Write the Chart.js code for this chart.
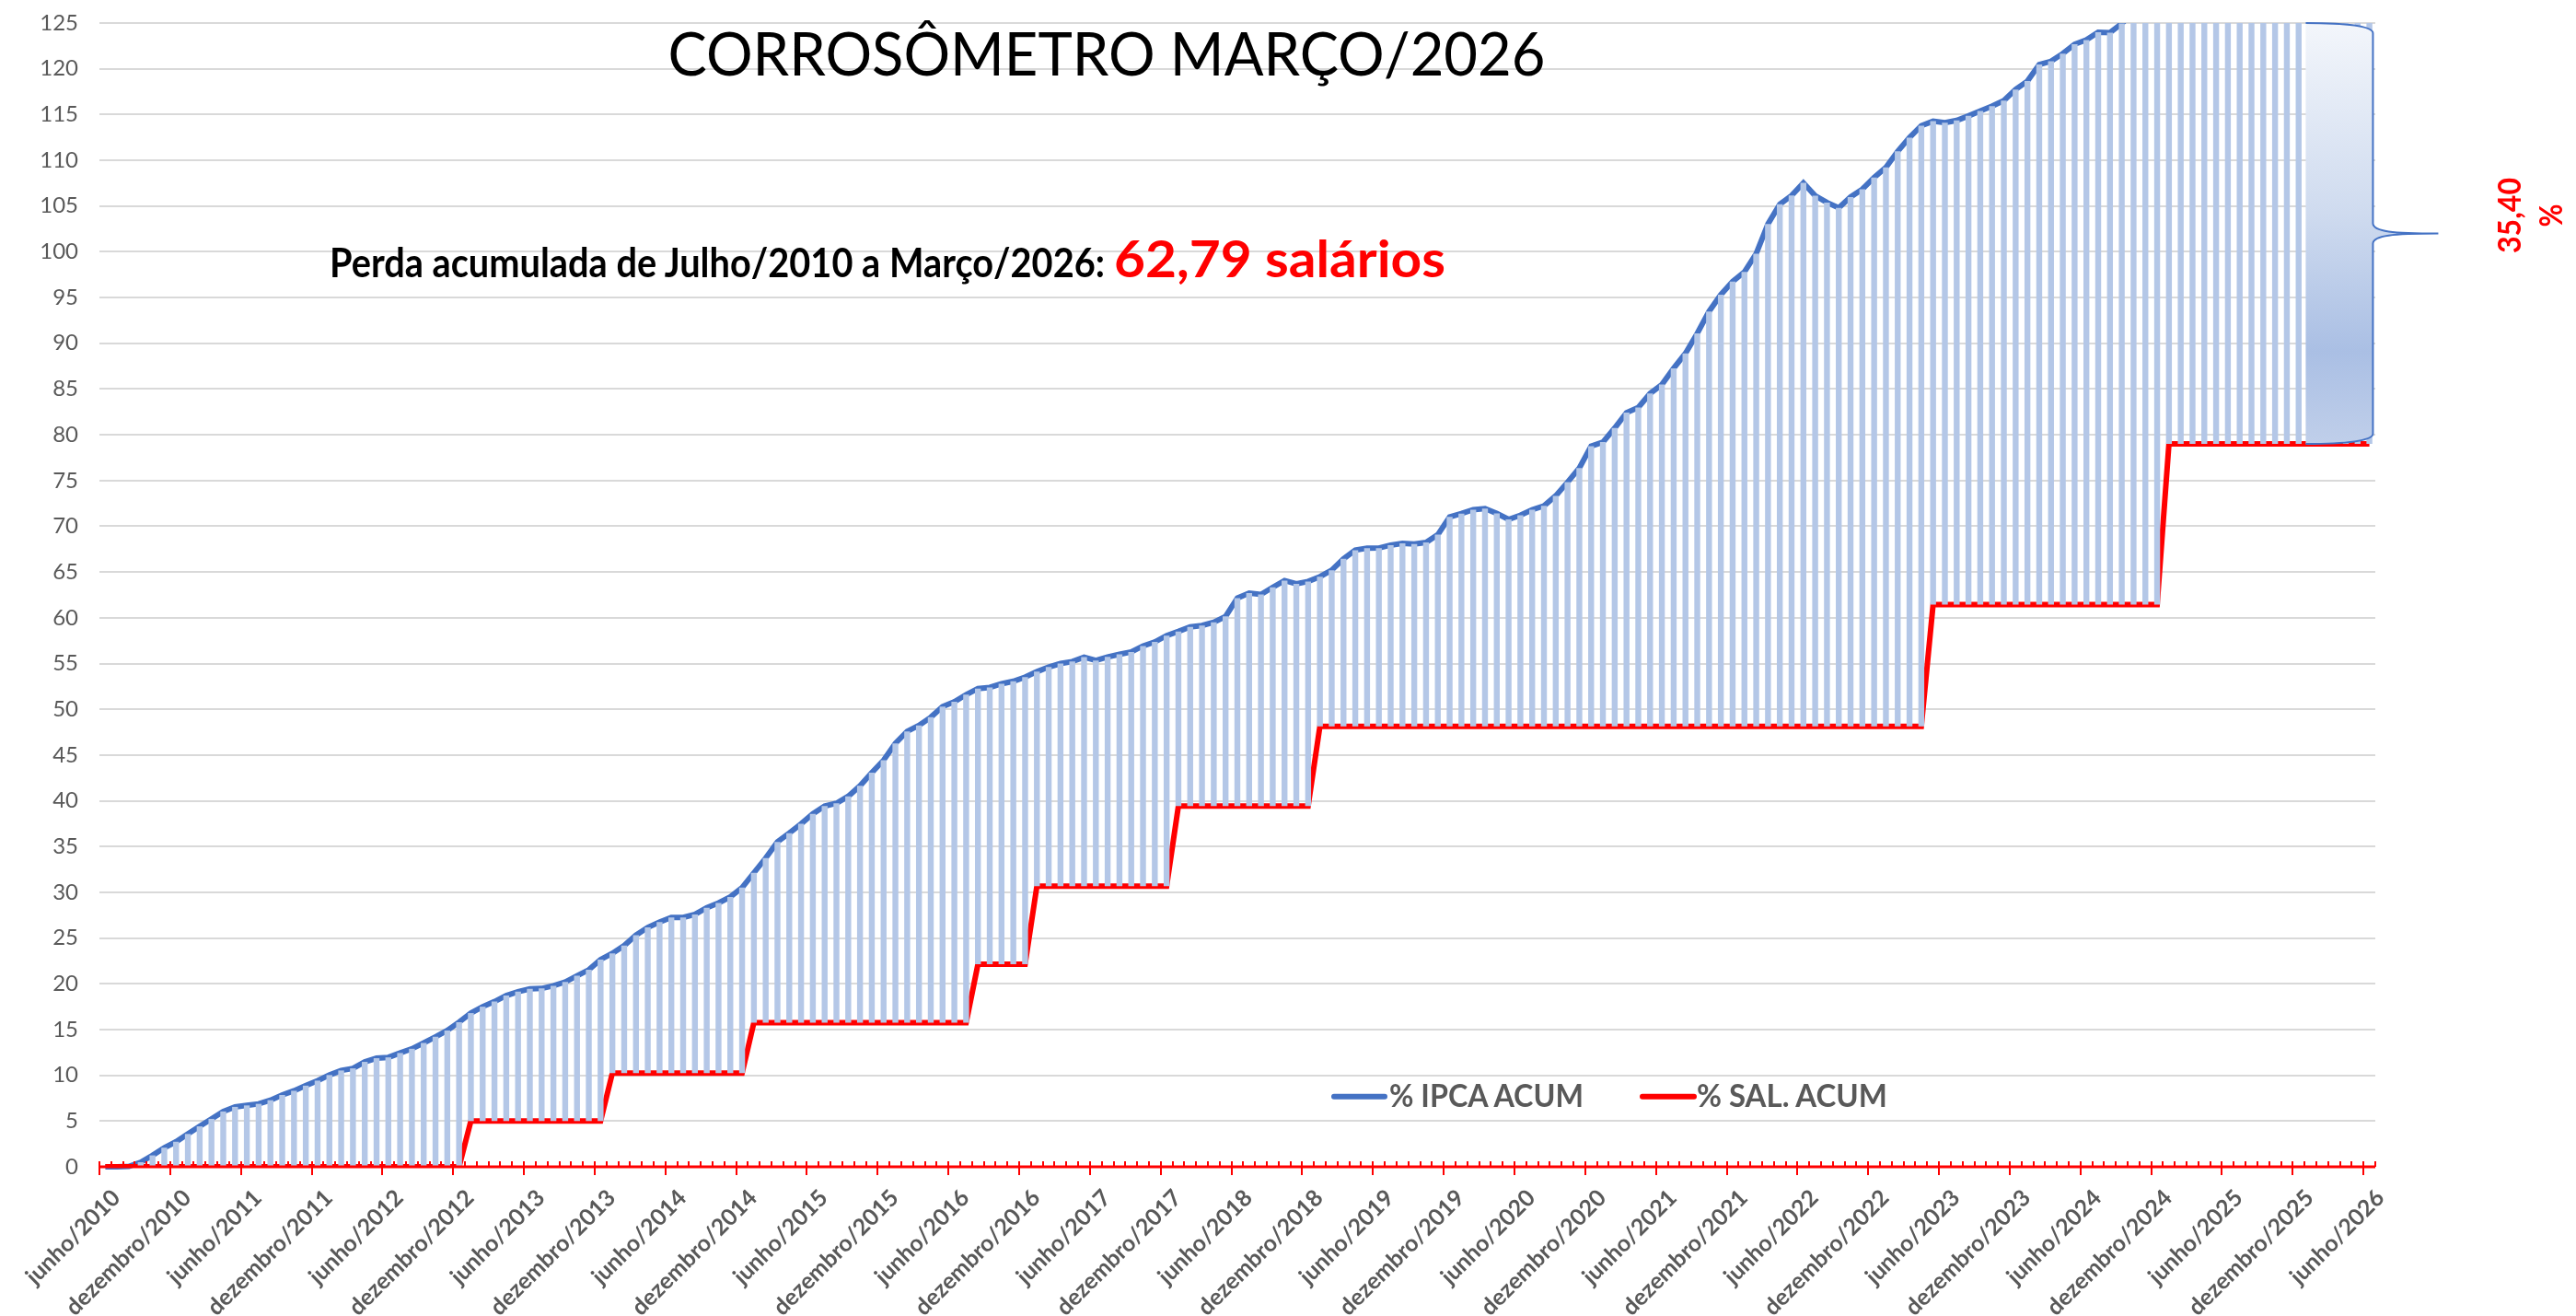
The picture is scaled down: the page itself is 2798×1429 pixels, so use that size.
<!DOCTYPE html>
<html>
<head>
<meta charset="utf-8">
<script src="https://cdn.jsdelivr.net/npm/chart.js@4.4.1/dist/chart.umd.min.js"></script>
<style>
html,body{margin:0;padding:0;background:#ffffff;}
#wrap{position:relative;width:2798px;height:1429px;overflow:hidden;}
#c{position:absolute;left:0;top:0;}
#ov{position:absolute;left:0;top:0;pointer-events:none;}
</style>
</head>
<body>
<div id="wrap">
<canvas id="c" width="2798" height="1429"></canvas>
<svg id="ov" width="2798" height="1429" xmlns="http://www.w3.org/2000/svg"></svg>
</div>
<script>
// ---------------- DATA ----------------
const monthNames = ['janeiro','fevereiro','março','abril','maio','junho','julho','agosto','setembro','outubro','novembro','dezembro'];
// categories: junho/2010 ... junho/2026 (monthly)
const categories = [];
for (let y = 2010, m = 5; y < 2026 || (y === 2026 && m <= 5);) {
  categories.push(monthNames[m] + '/' + y);
  m++; if (m === 12) { m = 0; y++; }
}

// % IPCA acumulado (from junho/2010)
const ipcaAcum = [
  0,
  0.01, 0.05, 0.50, 1.25, 2.09, 2.74,
  3.59, 4.42, 5.24, 6.05, 6.55, 6.71, 6.88, 7.28, 7.85, 8.31, 8.87, 9.42,
  10.03, 10.53, 10.76, 11.47, 11.87, 11.96, 12.44, 12.90, 13.54, 14.21, 14.90, 15.81,
  16.80, 17.50, 18.06, 18.71, 19.14, 19.45, 19.49, 19.78, 20.20, 20.88, 21.53, 22.65,
  23.33, 24.18, 25.32, 26.16, 26.74, 27.25, 27.26, 27.58, 28.31, 28.84, 29.50, 30.51,
  32.13, 33.74, 35.51, 36.47, 37.48, 38.57, 39.42, 39.73, 40.49, 41.64, 43.07, 44.44,
  46.28, 47.59, 48.23, 49.13, 50.29, 50.82, 51.60, 52.27, 52.39, 52.79, 53.06, 53.52,
  54.11, 54.62, 55.00, 55.22, 55.70, 55.34, 55.72, 56.01, 56.26, 56.92, 57.36, 58.05,
  58.51, 59.01, 59.16, 59.51, 60.15, 62.16, 62.70, 62.55, 63.33, 64.07, 63.72, 63.97,
  64.49, 65.20, 66.44, 67.39, 67.61, 67.62, 67.94, 68.13, 68.06, 68.23, 69.08, 71.03,
  71.39, 71.82, 71.94, 71.40, 70.75, 71.20, 71.81, 72.23, 73.33, 74.82, 76.37, 78.76,
  79.20, 80.74, 82.42, 82.99, 84.51, 85.49, 87.27, 88.90, 91.09, 93.48, 95.31, 96.74,
  97.80, 99.80, 103.04, 105.19, 106.15, 107.53, 106.12, 105.38, 104.79, 105.99, 106.84, 108.12,
  109.22, 110.98, 112.48, 113.78, 114.27, 114.10, 114.35, 114.85, 115.40, 115.92, 116.53, 117.74,
  118.65, 120.47, 120.82, 121.66, 122.68, 123.15, 123.99, 123.95, 124.94, 126.20, 127.08, 128.26,
  128.62, 131.62, 132.92, 133.92, 134.52, 135.09, 135.70, 135.44, 136.57, 136.78, 137.21, 137.99,
  138.80, 140.40, 141.60, 141.60, 141.60, 141.60
];

// % salário acumulado (from junho/2010)
const salAcum = [
  0,
  0, 0, 0, 0, 0, 0,
  0, 0, 0, 0, 0, 0, 0, 0, 0, 0, 0, 0,
  0, 0, 0, 0, 0, 0, 0, 0, 0, 0, 0, 0,
  5.00, 5.00, 5.00, 5.00, 5.00, 5.00, 5.00, 5.00, 5.00, 5.00, 5.00, 5.00,
  10.25, 10.25, 10.25, 10.25, 10.25, 10.25, 10.25, 10.25, 10.25, 10.25, 10.25, 10.25,
  15.76, 15.76, 15.76, 15.76, 15.76, 15.76, 15.76, 15.76, 15.76, 15.76, 15.76, 15.76,
  15.76, 15.76, 15.76, 15.76, 15.76, 15.76, 15.76, 22.13, 22.13, 22.13, 22.13, 22.13,
  30.68, 30.68, 30.68, 30.68, 30.68, 30.68, 30.68, 30.68, 30.68, 30.68, 30.68, 30.68,
  39.43, 39.43, 39.43, 39.43, 39.43, 39.43, 39.43, 39.43, 39.43, 39.43, 39.43, 39.43,
  48.14, 48.14, 48.14, 48.14, 48.14, 48.14, 48.14, 48.14, 48.14, 48.14, 48.14, 48.14,
  48.14, 48.14, 48.14, 48.14, 48.14, 48.14, 48.14, 48.14, 48.14, 48.14, 48.14, 48.14,
  48.14, 48.14, 48.14, 48.14, 48.14, 48.14, 48.14, 48.14, 48.14, 48.14, 48.14, 48.14,
  48.14, 48.14, 48.14, 48.14, 48.14, 48.14, 48.14, 48.14, 48.14, 48.14, 48.14, 48.14,
  48.14, 48.14, 48.14, 48.14, 61.45, 61.45, 61.45, 61.45, 61.45, 61.45, 61.45, 61.45,
  61.45, 61.45, 61.45, 61.45, 61.45, 61.45, 61.45, 61.45, 61.45, 61.45, 61.45, 61.45,
  79.00, 79.00, 79.00, 79.00, 79.00, 79.00, 79.00, 79.00, 79.00, 79.00, 79.00, 79.00,
  79.00, 79.00, 79.00, 79.00, 79.00, 79.00
];

const yTicks = { min: 0, max: 125, step: 5 };
const seriesNames = ['% IPCA ACUM', '% SAL. ACUM'];
const titleText = 'CORROSÔMETRO MARÇO/2026';
const lossText = 'Perda acumulada de Julho/2010 a Março/2026:';
const lossValue = '62,79 salários';
const gapText = ['35,40', '%'];
// brace annotation anchors (category index positions, values)
const braceFromIdx = 186.6, braceToIdx = 192.3;

// ---------------- STYLE ----------------
const BLUE = '#4472c4', RED = '#ff0000', BARS = '#b4c7e7', GRID = '#d9d9d9', TXT = '#595959';
const FONT = 'Lato';

const isMajor = (lbl) => /^(junho|dezembro)\//.test(lbl);

const axisTicks = {
  id: 'axisTicks',
  afterDatasetsDraw(chart) {
    const xs = chart.scales.x, ctx = chart.ctx, y0 = chart.chartArea.bottom;
    const half = (xs.getPixelForValue(1) - xs.getPixelForValue(0)) / 2;
    ctx.save();
    ctx.strokeStyle = RED;
    ctx.lineWidth = 3;
    ctx.beginPath(); ctx.moveTo(xs.left, y0); ctx.lineTo(xs.right, y0); ctx.stroke();
    ctx.lineWidth = 2;
    for (let k = 0; k <= categories.length; k++) {
      const px = Math.round(xs.getPixelForValue(k) - half);
      const major = k < categories.length && isMajor(categories[k]);
      ctx.beginPath();
      ctx.moveTo(px, y0 - 6);
      ctx.lineTo(px, y0 + (major ? 9 : 0));
      ctx.stroke();
    }
    ctx.restore();
  }
};

const brace = {
  id: 'brace',
  afterDatasetsDraw(chart) {
    const xs = chart.scales.x, ys = chart.scales.y, ctx = chart.ctx;
    const L = xs.getPixelForValue(braceFromIdx), R = xs.getPixelForValue(braceToIdx);
    const T = ys.getPixelForValue(yTicks.max), B = ys.getPixelForValue(salAcum[salAcum.length - 1]);
    const M = (T + B) / 2, tip = R + 71, c = 11, d = 11;
    const p = new Path2D();
    p.moveTo(L, T);
    p.bezierCurveTo(L + (R - L) * 0.6, T, R, T + c * 0.3, R, T + c);
    p.lineTo(R, M - d);
    p.bezierCurveTo(R, M - 2, R + 22, M, tip, M);
    p.bezierCurveTo(R + 22, M, R, M + 2, R, M + d);
    p.lineTo(R, B - c);
    p.bezierCurveTo(R, B - c * 0.3, L + (R - L) * 0.6, B, L, B);
    const f = new Path2D(p); f.closePath();
    const g = ctx.createLinearGradient(0, T, 0, B);
    g.addColorStop(0, '#f3f6fb');
    g.addColorStop(0.45, '#cfdbef');
    g.addColorStop(0.78, '#aabfe4');
    g.addColorStop(1, '#c0cfea');
    ctx.save();
    ctx.fillStyle = g; ctx.fill(f);
    ctx.strokeStyle = BLUE; ctx.lineWidth = 2; ctx.stroke(p);
    ctx.restore();
  }
};

const chart = new Chart(document.getElementById('c'), {
  type: 'bar',
  data: {
    labels: categories,
    datasets: [
      {
        type: 'bar', label: 'gap',
        data: ipcaAcum.map((v, i) => [salAcum[i], v]),
        backgroundColor: BARS, borderWidth: 0,
        barPercentage: 0.5, categoryPercentage: 1, order: 0
      },
      {
        type: 'line', label: seriesNames[0], data: ipcaAcum,
        borderColor: BLUE, backgroundColor: BLUE, borderWidth: 6, pointRadius: 0,
        tension: 0, order: 2, clip: { left: 5, right: 5, top: 0, bottom: 5 }
      },
      {
        type: 'line', label: seriesNames[1], data: salAcum,
        borderColor: RED, backgroundColor: RED, borderWidth: 6, pointRadius: 0,
        tension: 0, order: 1
      }
    ]
  },
  options: {
    responsive: false, animation: false, devicePixelRatio: 1,
    layout: { padding: { left: 0, right: 218, top: 25, bottom: 0 } },
    plugins: { legend: { display: false }, tooltip: { enabled: false }, title: { display: false } },
    scales: {
      x: {
        type: 'category', offset: true,
        grid: { display: false, drawTicks: false },
        border: { display: false },
        ticks: {
          autoSkip: false, minRotation: 45, maxRotation: 45, labelOffset: 12, padding: 19,
          color: TXT, font: { family: FONT, weight: 'bold', size: 25 },
          callback: (v, i) => isMajor(categories[i]) ? categories[i] : ''
        },
        afterFit: (s) => { s.height = 162; s.paddingLeft = 0; s.paddingRight = 0; }
      },
      y: {
        min: yTicks.min, max: yTicks.max,
        grid: { color: GRID, lineWidth: 2, drawTicks: false },
        border: { display: false },
        ticks: { stepSize: yTicks.step, color: TXT, padding: 23, font: { family: FONT, size: 24 } },
        afterFit: (s) => { s.width = 108; s.paddingTop = 0; s.paddingBottom = 0; }
      }
    }
  },
  plugins: [axisTicks, brace]
});

// ---------------- OVERLAY TEXT (SVG) ----------------
const NS = 'http://www.w3.org/2000/svg';
const svg = document.getElementById('ov');
function el(tag, attrs, txt) {
  const e = document.createElementNS(NS, tag);
  for (const k in attrs) e.setAttribute(k, attrs[k]);
  if (txt !== undefined) e.textContent = txt;
  svg.appendChild(e);
  return e;
}
el('text', { x: 725.5, y: 81.7, 'font-family': FONT, 'font-size': 66, fill: '#000', textLength: 953, lengthAdjust: 'spacingAndGlyphs' }, titleText);
el('text', { x: 358, y: 301, 'font-family': FONT, 'font-weight': 'bold', 'font-size': 44, fill: '#000', textLength: 842, lengthAdjust: 'spacingAndGlyphs' }, lossText);
el('text', { x: 1210, y: 301, 'font-family': FONT, 'font-weight': 'bold', 'font-size': 56, fill: RED, textLength: 360, lengthAdjust: 'spacingAndGlyphs' }, lossValue);
el('text', { transform: 'translate(2738,234) rotate(-90)', 'text-anchor': 'middle', 'font-family': FONT, 'font-weight': 'bold', 'font-size': 35, fill: RED, textLength: 82, lengthAdjust: 'spacingAndGlyphs' }, gapText[0]);
el('text', { transform: 'translate(2783,234) rotate(-90)', 'text-anchor': 'middle', 'font-family': FONT, 'font-weight': 'bold', 'font-size': 35, fill: RED, textLength: 25, lengthAdjust: 'spacingAndGlyphs' }, gapText[1]);

// legend
const legendItems = [
  { ds: chart.data.datasets[1], x1: 1449, x2: 1504, tx: 1509, tw: 211 },
  { ds: chart.data.datasets[2], x1: 1784, x2: 1840, tx: 1843, tw: 207 }
];
legendItems.forEach(it => {
  el('line', { x1: it.x1, y1: 1190.7, x2: it.x2, y2: 1190.7, stroke: it.ds.borderColor, 'stroke-width': 6, 'stroke-linecap': 'round' });
  el('text', { x: it.tx, y: 1201.7, 'font-family': FONT, 'font-weight': 'bold', 'font-size': 34, fill: TXT, textLength: it.tw, lengthAdjust: 'spacingAndGlyphs' }, it.ds.label);
});
</script>
</body>
</html>
